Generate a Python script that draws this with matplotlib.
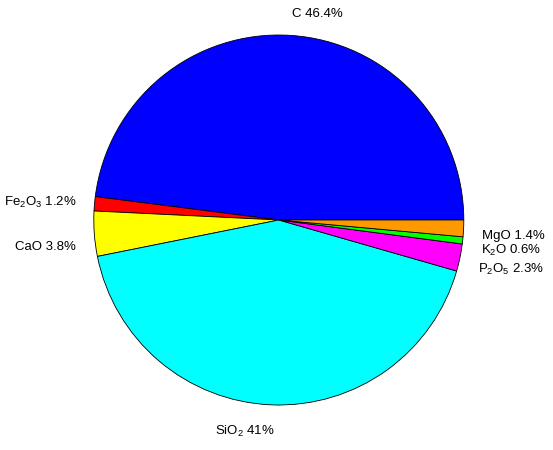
import numpy as np
import matplotlib
matplotlib.use("Agg")
import matplotlib.pyplot as plt

plt.rcParams['font.family'] = ['Liberation Sans', 'DejaVu Sans']
plt.rcParams['mathtext.fontset'] = 'custom'
plt.rcParams['mathtext.rm'] = 'Liberation Sans'
plt.rcParams['mathtext.it'] = 'Liberation Sans:italic'
plt.rcParams['mathtext.bf'] = 'Liberation Sans:bold'

# Data (counter-clockwise from 0 degrees)
components = ['C', 'Fe$_2$O$_3$', 'CaO', 'SiO$_2$', 'P$_2$O$_5$', 'K$_2$O', 'MgO']
percent = [46.4, 1.2, 3.8, 41, 2.3, 0.6, 1.4]
percent_text = ['46.4%', '1.2%', '3.8%', '41%', '2.3%', '0.6%', '1.4%']

# Styles
colors = ['#0000FF', '#FF0000', '#FFFF00', '#00FFFF', '#FF00FF', '#00FF00', '#FF9900']
label_dy_px = [-3.0, 0.0, 12.0, 7.7, 7.9, 7.9, 6.8]  # vertical nudges in pixels (down positive)
label_dx_px = [0.0, 0.0, 0.0, 3.5, 0.0, 0.0, 0.0]

W, H = 553, 450
cx, cy, R = 278.8, 220.0, 185.0

fig = plt.figure(figsize=(W / 100, H / 100), dpi=100)
ax = fig.add_axes([0, 0, 1, 1])

wedges, _ = ax.pie(percent, colors=colors, startangle=0, counterclock=True,
                   radius=1.0, center=(0, 0), frame=True,
                   wedgeprops=dict(edgecolor='black', linewidth=0.6))
ax.set_xlim(-cx / R, (W - cx) / R)
ax.set_ylim(-(H - cy) / R, cy / R)
ax.set_aspect('auto')
ax.axis('off')

for w, name, pt, dx, dy in zip(wedges, components, percent_text, label_dx_px, label_dy_px):
    mid = np.deg2rad((w.theta1 + w.theta2) / 2)
    x = 1.1 * np.cos(mid) + dx / R
    y = 1.1 * np.sin(mid) - dy / R
    ha = 'left' if np.cos(mid) >= 0 else 'right'
    ax.text(x, y, f'{name} {pt}', ha=ha, va='center', fontsize=9.5, color='black')

fig.savefig('out.png', dpi=100)
